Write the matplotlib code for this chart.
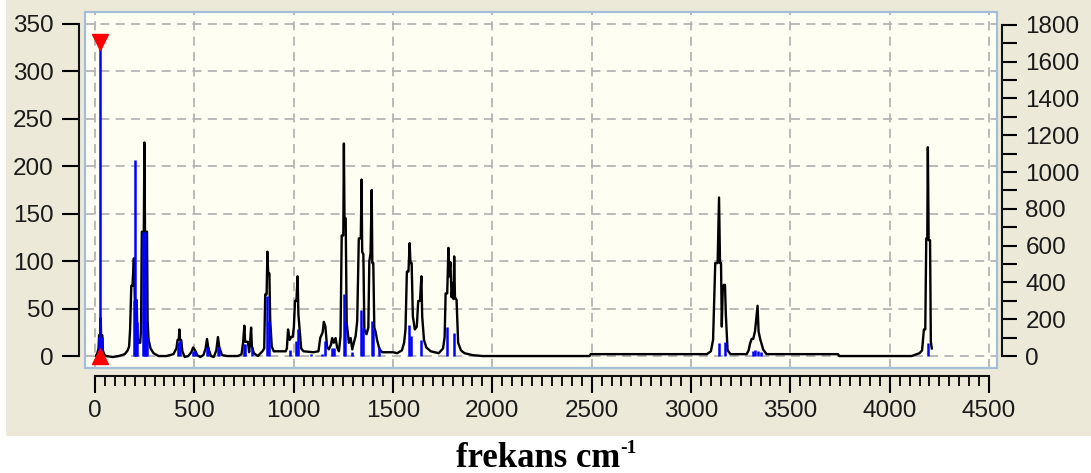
import matplotlib.pyplot as plt
from matplotlib.patches import Rectangle
from matplotlib.ticker import MultipleLocator, FixedLocator

# spektrum (zarf egrisi), sol eksen birimi
curve_x = [5, 12, 18, 21, 27, 29, 31, 37, 40, 46, 55, 90, 120, 150, 165, 172, 177, 183, 189, 196,
           201, 210, 214, 220, 228, 232, 236, 246, 249, 252, 262, 265, 270, 280, 295, 320, 360, 395,
           410, 416, 422, 425, 428, 434, 440, 452, 470, 485, 494, 504, 515, 530, 546, 557, 564, 571,
           584, 598, 611, 619, 626, 640, 665, 720, 738, 746, 752, 756, 770, 776, 781, 786, 790, 800,
           820, 843, 852, 857, 864, 868, 872, 878, 882, 890, 900, 960, 966, 972, 980, 988, 995, 1001,
           1007, 1014, 1020, 1024, 1030, 1038, 1050, 1100, 1125, 1134, 1146, 1152, 1160, 1168, 1177,
           1188, 1194, 1202, 1211, 1219, 1228, 1236, 1242, 1250, 1253, 1256, 1262, 1267, 1278, 1287,
           1295, 1303, 1312, 1320, 1328, 1338, 1342, 1345, 1351, 1356, 1367, 1376, 1381, 1387, 1393,
           1396, 1401, 1406, 1412, 1420, 1432, 1446, 1500, 1521, 1545, 1556, 1563, 1570, 1578, 1584,
           1588, 1594, 1600, 1610, 1620, 1627, 1636, 1643, 1647, 1656, 1668, 1690, 1730, 1752, 1760,
           1765, 1773, 1779, 1783, 1789, 1795, 1801, 1805, 1808, 1812, 1820, 1828, 1842, 1860, 1900,
           1950, 2490, 2495, 3080, 3100, 3111, 3122, 3134, 3141, 3146, 3151, 3155, 3160, 3166, 3171,
           3175, 3184, 3199, 3280, 3290, 3297, 3305, 3313, 3322, 3335, 3340, 3348, 3363, 3380, 3740,
           3746, 4110, 4150, 4163, 4172, 4179, 4184, 4189, 4192, 4196, 4203, 4207, 4212]
curve_y = [0, 3, 8, 22, 22, 40, 22, 22, 6, 2, 0, -1, 0, 2, 6, 10, 28, 74, 74, 103,
           59, 59, 20, 14, 14, 28, 131, 131, 225, 131, 131, 38, 17, 8, 3, 0, 0, 2,
           8, 17, 17, 28, 17, 17, 5, -1, 0, 4, 9, 6, 1, -1, 1, 8, 18, 8,
           0, -1, 6, 20, 9, 1, 0, 0, 2, 15, 32, 15, 15, 4, 15, 30, 10, 3,
           0, 5, 8, 65, 65, 110, 87, 87, 38, 10, 5, 5, 8, 28, 17, 20, 20, 30,
           58, 58, 84, 44, 28, 8, 5, 4, 5, 19, 25, 36, 31, 10, 7,
           12, 19, 14, 19, 9, 5, 21, 127, 127, 224, 145, 145, 35, 14, 19,
           7, 14, 21, 37, 124, 124, 186, 110, 107, 28, 23, 30, 100, 108, 175,
           98, 98, 30, 26, 17, 7, 4, 4, 3, 6, 14, 28, 89, 89, 119,
           98, 98, 42, 28, 31, 58, 58, 84, 42, 17, 9, 5, 3, 8, 20,
           66, 66, 114, 84, 99, 62, 77, 60, 105, 62, 59, 14, 6, 3, 1,
           0, 0, 2, 2, 5, 17, 98, 98, 167, 98, 98, 31, 73, 75, 75,
           45, 6, 2, 2, 6, 13, 18, 18, 26, 53, 26, 18, 7, 2, 2,
           0, 0, 3, 6, 28, 28, 124, 124, 220, 122, 122, 15, 8]

# titresim cizgileri (mavi)
stick_x = [20, 28, 36, 195, 200, 206, 210, 240, 245, 250, 256, 262, 420, 426, 492, 504, 563, 568,
           620, 626, 750, 757, 788, 866, 876, 982, 1010, 1020, 1085, 1143, 1160, 1195, 1205, 1252,
           1258, 1295, 1340, 1348, 1392, 1399, 1428, 1582, 1592, 1643, 1774, 1808, 3142, 3172, 3312,
           3324, 3338, 3352, 4194]
stick_h = [20, 330, 20, 59, 207, 59, 36, 131, 131, 131, 38, 20, 15, 17, 5, 5, 9, 9,
           9, 9, 13, 13, 10, 63, 37, 6, 16, 28, 2, 2, 16, 8, 8, 65,
           36, 4, 48, 30, 37, 28, 9, 33, 21, 17, 31, 24, 14, 15, 5,
           6, 5, 4, 14]

# secili pik (kirmizi isaretler)
cursor_x = 28
cursor_top = 331
cursor_bottom = 0

xticks = list(range(0, 5000, 500))
xticks_minor = list(range(0, 4550, 50))
yticks_left = list(range(0, 400, 50))
yticks_right = list(range(0, 2000, 200))

plt.rcParams['font.family'] = ['Liberation Sans', 'DejaVu Sans']

W, H = 1091, 473
fig = plt.figure(figsize=(W / 100, H / 100), dpi=100)
fig.patch.set_facecolor('white')

# gri panel
fig.patches.append(Rectangle((6 / W, 1 - 436 / H), 1 - 6 / W, 436 / H, transform=fig.transFigure,
                             facecolor='#ECE9D8', edgecolor='none', zorder=-10))

ax = fig.add_axes([85 / W, 1 - 368 / H, (997 - 85) / W, (368 - 12) / H])
ax.set_facecolor('#FEFEF2')
ax.set_xlim(-50, 4540)
ax.set_ylim(-12.6, 362.5)

ax.plot(curve_x, curve_y, color='black', lw=1.7, zorder=3)
ax.vlines(stick_x, 0, stick_h, color='#0000FF', lw=1.8, zorder=4)
ax.plot([cursor_x], [cursor_top], marker='v', color='#FF0000', ms=11, ls='none', zorder=5)
ax.plot([cursor_x], [cursor_bottom], marker='^', color='#FF0000', ms=11, ls='none', zorder=5,
        clip_on=False)

ax.set_xticks(xticks)
ax.xaxis.set_minor_locator(FixedLocator(xticks_minor))
ax.set_yticks(yticks_left)
ax.grid(True, which='major', color='#B4B4B4', ls=(0, (5, 3.5)), lw=1.3)
ax.set_axisbelow(True)

for s in ['top', 'right']:
    ax.spines[s].set_visible(False)
ax.spines['left'].set_position(('outward', 4.3))
ax.spines['left'].set_bounds(0, 350)
ax.spines['bottom'].set_position(('outward', 5.8))
ax.spines['bottom'].set_bounds(0, 4500)
for s in ['left', 'bottom']:
    ax.spines[s].set_linewidth(1.5)
    ax.spines[s].set_color('#111111')

ax.tick_params(axis='y', length=12.2, width=1.5, pad=6, labelsize=17.5, labelcolor='#1a1a1a')
ax.tick_params(axis='x', which='major', length=12.2, width=1.5, pad=5, labelsize=17.5,
               labelcolor='#1a1a1a')
ax.tick_params(axis='x', which='minor', length=7, width=1.3)

ax2 = ax.twinx()
ax2.set_ylim(-65.2, 1869.6)
ax2.set_yticks(yticks_right)
ax2.yaxis.set_minor_locator(MultipleLocator(100))
for s in ['top', 'left', 'bottom']:
    ax2.spines[s].set_visible(False)
ax2.spines['right'].set_position(('outward', 3.6))
ax2.spines['right'].set_bounds(0, 1800)
ax2.spines['right'].set_linewidth(1.5)
ax2.spines['right'].set_color('#111111')
ax2.tick_params(axis='y', which='both', length=10.8, width=1.5)
ax2.tick_params(axis='y', which='major', pad=6, labelsize=17.5, labelcolor='#1a1a1a')

# cerceve
ax2.add_patch(Rectangle((0, 0), 1, 1, transform=ax2.transAxes, fill=False,
                        edgecolor='#A4BDD9', lw=1.6, clip_on=False, zorder=10))

# eksen basligi
t = fig.text(538 / W, 1 - 458 / H, 'frekans cm', ha='center', va='center',
             family=['Liberation Serif', 'DejaVu Serif'], fontweight='bold', fontsize=25)
ax.annotate('-1', xy=(1, 0.8), xycoords=t, ha='left', va='center',
            family=['Liberation Serif', 'DejaVu Serif'], fontweight='bold', fontsize=14,
            annotation_clip=False)

fig.savefig('out.png', dpi=100)
